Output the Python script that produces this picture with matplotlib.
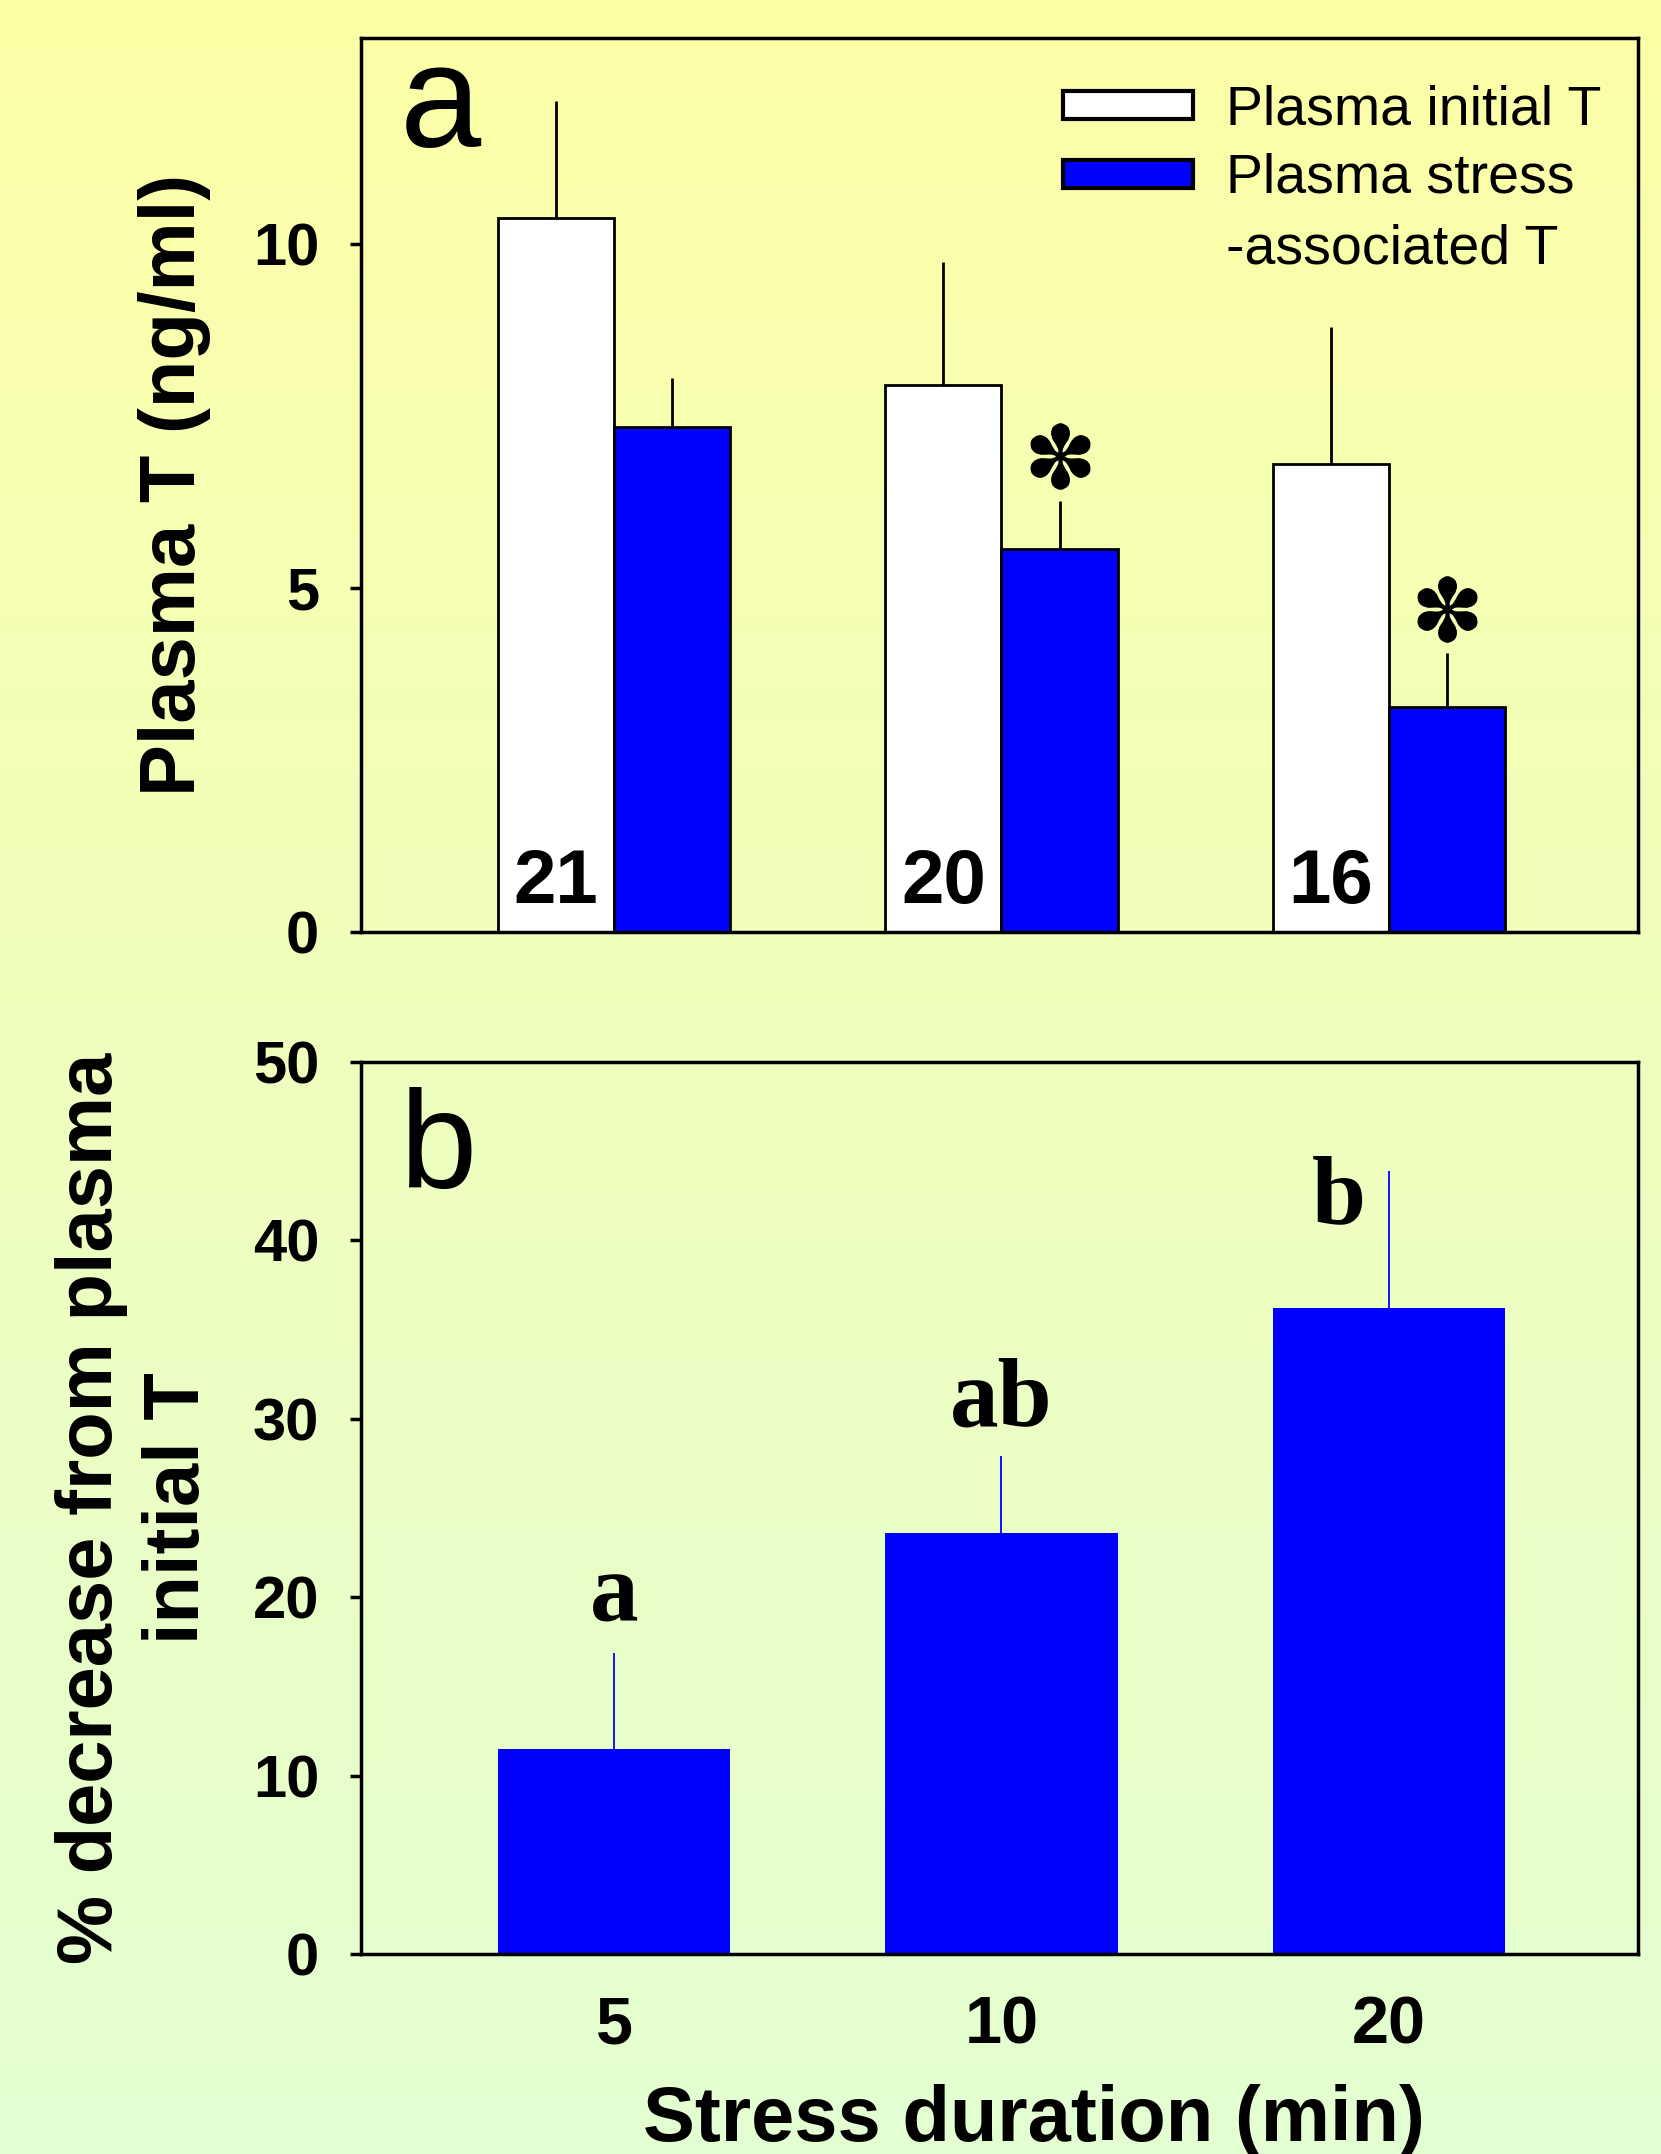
import numpy as np
import matplotlib
matplotlib.use("Agg")
import matplotlib.pyplot as plt
from matplotlib.patches import Rectangle

plt.rcParams['font.family'] = ['Liberation Sans', 'DejaVu Sans']

# panel a: plasma T (ng/ml)
groups = ['5', '10', '20']
initial_T = [10.38, 7.96, 6.81]
initial_err = [1.70, 1.78, 1.99]
stress_T = [7.35, 5.57, 3.27]
stress_err = [0.71, 0.70, 0.78]
n_fish = ['21', '20', '16']
signif = [False, True, True]

# panel b: % decrease from initial T
pct_decrease = [11.5, 23.6, 36.2]
pct_err = [5.4, 4.3, 7.7]
letters = ['a', 'ab', 'b']

W, H = 1661, 2154
fig = plt.figure(figsize=(W / 100, H / 100), dpi=100)

# background gradient yellow -> pale green
bg = fig.add_axes([0, 0, 1, 1], zorder=-10)
stops = np.array([[253, 254, 166], [239, 254, 190], [227, 255, 209]]) / 255.0
t = np.linspace(0, 1, 400)
grad = np.stack([np.interp(t, [0, 0.5, 1], stops[:, k]) for k in range(3)], axis=1)
bg.imshow(grad[:, None, :], aspect='auto', extent=[0, 1, 0, 1])
bg.axis('off')

def px_axes(l, t_, r, b):
    return [l / W, 1 - b / H, (r - l) / W, (b - t_) / H]

ax1 = fig.add_axes(px_axes(361, 38, 1638, 932))
ax2 = fig.add_axes(px_axes(361, 1062, 1638, 1954))

x = np.arange(len(groups))
bw = 0.3

for ax in (ax1, ax2):
    ax.set_facecolor('none')
    for s in ax.spines.values():
        s.set_linewidth(2.5)
    ax.set_xlim(-0.653, 2.643)
    ax.tick_params(axis='y', direction='out', length=8, width=2.5, pad=22,
                   labelsize=43)
    ax.tick_params(axis='x', length=0)

# ---- panel a
ax1.bar(x - bw / 2, initial_T, bw, color='white', edgecolor='black', linewidth=2,
        yerr=[[0] * 3, initial_err], error_kw=dict(ecolor='black', elinewidth=2, capsize=0))
ax1.bar(x + bw / 2, stress_T, bw, color='#0000ff', edgecolor='black', linewidth=2,
        yerr=[[0] * 3, stress_err], error_kw=dict(ecolor='black', elinewidth=2, capsize=0))
ax1.set_ylim(0, 13)
ax1.set_yticks([0, 5, 10])
ax1.set_yticklabels(['0', '5', '10'], fontweight='bold')
ax1.set_xticks([])

for i in range(len(groups)):
    ax1.text(x[i] - bw / 2, 0.42, n_fish[i], ha='center', va='baseline',
             fontsize=55, fontweight='bold')

# significance asterisks above the stress bars
sig = np.array(signif)
sig_x = (x + bw / 2)[sig]
sig_y = (np.array(stress_T) + np.array(stress_err))[sig] + 0.65
ax1.plot(sig_x, sig_y, ls='none', marker='$\u273d$', ms=48, color='black',
         markeredgewidth=0)

ax1.text(0.030, 0.878, 'a', transform=ax1.transAxes, fontsize=105, va='baseline')
ax1.text(-0.1457, 0.5, 'Plasma T (ng/ml)', transform=ax1.transAxes, rotation=90,
         ha='center', va='center', fontsize=56, fontweight='bold')

# legend drawn by hand
ax1.add_patch(Rectangle((0.5497, 0.9094), 0.1018, 0.0313, transform=ax1.transAxes,
                        facecolor='white', edgecolor='black', linewidth=3))
ax1.add_patch(Rectangle((0.5497, 0.8322), 0.1018, 0.0313, transform=ax1.transAxes,
                        facecolor='#0000ff', edgecolor='black', linewidth=3))
ax1.text(0.6775, 0.9038, 'Plasma initial T', transform=ax1.transAxes, fontsize=40, va='baseline')
ax1.text(0.6775, 0.8277, 'Plasma stress', transform=ax1.transAxes, fontsize=40, va='baseline')
ax1.text(0.6775, 0.7483, '-associated T', transform=ax1.transAxes, fontsize=40, va='baseline')

# ---- panel b
ax2.bar(x, pct_decrease, 2 * bw, color='#0000ff', edgecolor='none',
        yerr=[[0] * 3, pct_err], error_kw=dict(ecolor='#0000ff', elinewidth=1.3, capsize=0))
ax2.set_ylim(0, 50)
ax2.set_yticks([0, 10, 20, 30, 40, 50])
ax2.set_yticklabels(['0', '10', '20', '30', '40', '50'], fontweight='bold')
ax2.set_xticks(x)
ax2.set_xticklabels(groups, fontsize=48, fontweight='bold')
ax2.tick_params(axis='x', pad=30)

letter_y = [18.67, 29.65, 40.98]
letter_dx = [0, 0, -0.128]
for i in range(len(groups)):
    ax2.text(x[i] + letter_dx[i], letter_y[i], letters[i], ha='center', va='baseline',
             fontsize=70, fontweight='bold', family='Liberation Serif')

ax2.text(0.030, 0.859, 'b', transform=ax2.transAxes, fontsize=100, va='baseline')
ax2.text(-0.177, 0.5, '% decrease from plasma\ninitial T', transform=ax2.transAxes,
         rotation=90, ha='center', va='center', fontsize=56, fontweight='bold',
         linespacing=1.25)

fig.text((361 + 0.527 * 1277) / W, 1 - 2141 / H, 'Stress duration (min)', ha='center',
         va='baseline', fontsize=56, fontweight='bold')

fig.savefig('out.png', dpi=100)
